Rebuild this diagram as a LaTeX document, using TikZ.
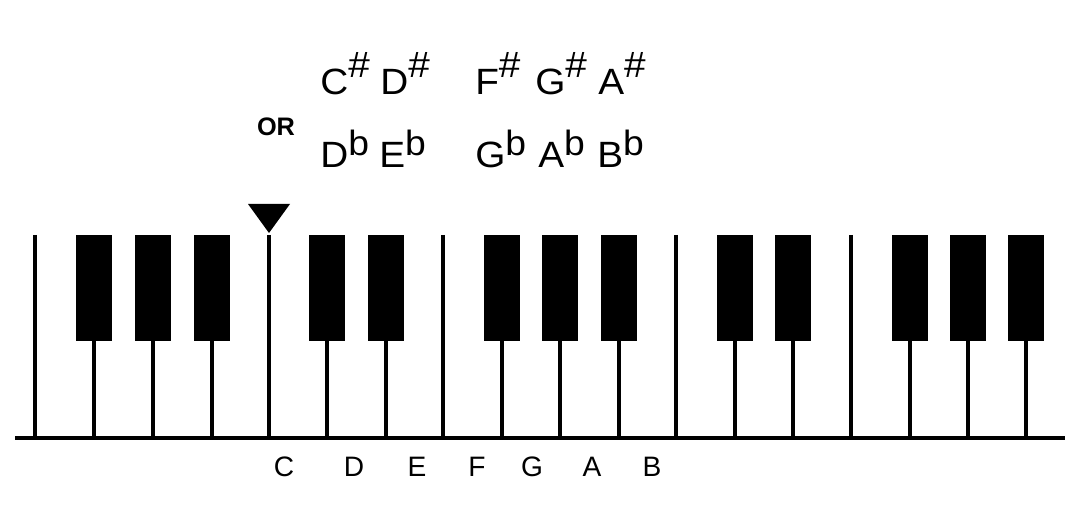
\documentclass[tikz,border=0pt]{standalone}
\usepackage{fontspec}
\setmainfont{Liberation Sans}
\newfontfamily\widefont[FakeStretch=1.06]{Liberation Sans}
\newcommand{\sharpname}[1]{#1\raisebox{0.43cm}{\fontsize{26}{26}\selectfont\#}}
\newcommand{\flatname}[1]{#1\raisebox{0.3cm}{\fontsize{25}{25}\selectfont b}}
\usetikzlibrary{positioning}

\begin{document}
\begin{tikzpicture}[
    x=0.025cm, y=-0.025cm,
    bar/.style={line width=3.5pt},
    blackkey/.style={rectangle, fill=black, inner sep=0pt, minimum width=0.9cm, minimum height=2.65cm},
    accname/.style={anchor=base west, inner sep=0pt, font=\widefont\fontsize{26}{26}\selectfont},
    whitename/.style={anchor=base, inner sep=0pt, font=\fontsize{20}{20}\selectfont}
]
\useasboundingbox (0,0) rectangle (1080,530);

% Base line
\coordinate (baseL) at (15,438);
\coordinate (baseR) at (1065,438);
\draw[bar] (baseL) -- (baseR);

% Full height lines
\coordinate (lineE0) at (35,235);
\coordinate (lineB0) at (269,235);
\coordinate (lineE1) at (443,235);
\coordinate (lineB1) at (676,235);
\coordinate (lineE2) at (851,235);
\draw[bar] (lineE0) -- (lineE0 |- baseL);
\draw[bar] (lineB0) -- (lineB0 |- baseL);
\draw[bar] (lineE1) -- (lineE1 |- baseL);
\draw[bar] (lineB1) -- (lineB1 |- baseL);
\draw[bar] (lineE2) -- (lineE2 |- baseL);

% Black keys
\node[blackkey] (fs0) at (94,288) {};
\node[blackkey] (gs0) at (153,288) {};
\node[blackkey] (as0) at (212,288) {};
\node[blackkey] (cs1) at (327,288) {};
\node[blackkey] (ds1) at (386,288) {};
\node[blackkey] (fs1) at (502,288) {};
\node[blackkey] (gs1) at (560,288) {};
\node[blackkey] (as1) at (619,288) {};
\node[blackkey] (cs2) at (735,288) {};
\node[blackkey] (ds2) at (793,288) {};
\node[blackkey] (fs2) at (910,288) {};
\node[blackkey] (gs2) at (968,288) {};
\node[blackkey] (as2) at (1026,288) {};

% Stems
\draw[bar] (fs0.south) -- (fs0 |- baseL);
\draw[bar] (gs0.south) -- (gs0 |- baseL);
\draw[bar] (as0.south) -- (as0 |- baseL);
\draw[bar] (cs1.south) -- (cs1 |- baseL);
\draw[bar] (ds1.south) -- (ds1 |- baseL);
\draw[bar] (fs1.south) -- (fs1 |- baseL);
\draw[bar] (gs1.south) -- (gs1 |- baseL);
\draw[bar] (as1.south) -- (as1 |- baseL);
\draw[bar] (cs2.south) -- (cs2 |- baseL);
\draw[bar] (ds2.south) -- (ds2 |- baseL);
\draw[bar] (fs2.south) -- (fs2 |- baseL);
\draw[bar] (gs2.south) -- (gs2 |- baseL);
\draw[bar] (as2.south) -- (as2 |- baseL);

% Marker over middle C
\fill (248,204) -- (290,204) -- (269,233) -- cycle;

% Sharp names
\node[accname] (csName) at (320,95) {\sharpname{C}};
\node[accname] (dsName) at (380,95) {\sharpname{D}};
\node[accname] (fsName) at (475,95) {\sharpname{F}};
\node[accname] (gsName) at (535,95) {\sharpname{G}};
\node[accname] (asName) at (598,95) {\sharpname{A}};

% Flat names
\node[accname] (dbName) at (320,168) {\flatname{D}};
\node[accname] (ebName) at (379,168) {\flatname{E}};
\node[accname] (gbName) at (475,168) {\flatname{G}};
\node[accname] (abName) at (538,168) {\flatname{A}};
\node[accname] (bbName) at (597,168) {\flatname{B}};

\node[anchor=base, inner sep=0pt, font=\bfseries\fontsize{18}{18}\selectfont] (or) at (276,136) {OR};

% White key names
\node[whitename] (nameC) at (284,477) {C};
\node[whitename] (nameD) at (354,477) {D};
\node[whitename] (nameE) at (417,477) {E};
\node[whitename] (nameF) at (477,477) {F};
\node[whitename] (nameG) at (532,477) {G};
\node[whitename] (nameA) at (592,477) {A};
\node[whitename] (nameB) at (652,477) {B};

\end{tikzpicture}
\end{document}
